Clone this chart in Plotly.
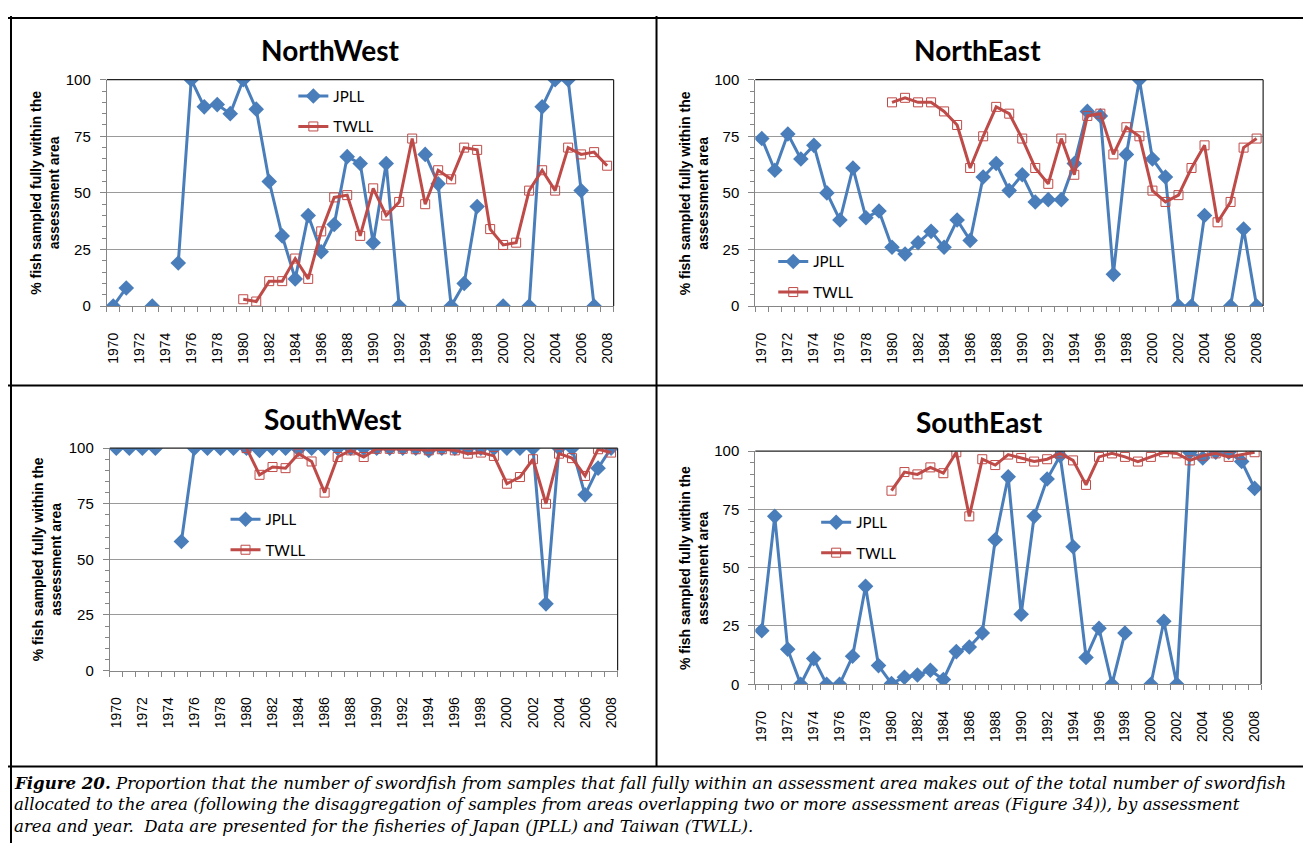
import plotly.graph_objects as go

years = list(range(1970, 2009))
year_labels = [str(y) for y in range(1970, 2009, 2)]
N = None

nw_jpll = [0, 8, N, 0, N, 19, 100, 88, 89, 85,
           100, 87, 55, 31, 12, 40, 24, 36, 66, 63,
           28, 63, 0, N, 67, 54, 0, 10, 44, N,
           0, N, 0, 88, 100, 100, 51, 0, N]
nw_twll = [N] * 10 + [3, 2, 11, 11, 21, 12, 33, 48, 49, 31,
                      52, 40, 46, 74, 45, 60, 56, 70, 69, 34,
                      27, 28, 51, 60, 51, 70, 67, 68, 62]

ne_jpll = [74, 60, 76, 65, 71, 50, 38, 61, 39, 42,
           26, 23, 28, 33, 26, 38, 29, 57, 63, 51,
           58, 46, 47, 47, 63, 86, 84, 14, 67, 100,
           65, 57, 0, 0, 40, N, 0, 34, 0]
ne_twll = [N] * 10 + [90, 92, 90, 90, 86, 80, 61, 75, 88, 85,
                      74, 61, 54, 74, 58, 84, 85, 67, 79, 75,
                      51, 46, 49, 61, 71, 37, 46, 70, 74]

sw_jpll = [100, 100, 100, 100, N, 58, 100, 100, 100, 100,
           100, 99, 100, 100, 99.5, 100, 100, 100, 100, 100,
           100, 100, 100, 100, 99, 100, 100, 100, 100, 100,
           100, 100, 100, 30, 100, 100, 79, 91, 100]
sw_twll = [N] * 10 + [100, 88, 91.5, 91, 97.5, 94, 80, 96, 99, 96,
                      99.7, 99.7, 99.7, 99.5, 99, 99.5, 99, 97.5, 98, 96.5,
                      84, 87, 95, 75, 97.5, 95.5, 87.5, 99.5, 98]

se_jpll = [23, 72, 15, 0, 11, 0, 0, 12, 42, 8,
           0.3, 3, 4, 6, 2, 14, 16, 22, 62, 89,
           30, 72, 88, 98, 59, 11.5, 24, 0, 22, N,
           0, 27, 0, 99.5, 97, 99.5, 99.5, 95.5, 84]
se_twll = [N] * 10 + [83, 91, 90, 93, 90.5, 99.5, 72, 96.5, 94, 98.5,
                      97, 95.5, 96.5, 99, 96, 85.5, 97.5, 99, 97.5, 95.5,
                      97.5, 99.5, 99, 96, 98, 99, 97.5, 98.5, 99.5]

panels = ["NorthWest", "NorthEast", "SouthWest", "SouthEast"]
series = [(nw_jpll, nw_twll), (ne_jpll, ne_twll), (sw_jpll, sw_twll), (se_jpll, se_twll)]

W, H = 1311, 843
OFF = 8  # page body margin of the browser
def px(x):
    return (x - OFF) / W
def py(y):
    return 1 - (y - OFF) / H

# plot-area boxes in page pixels: (left, right, top, bottom)
boxes = [(105, 613, 72, 303), (755, 1264, 72, 303), (108, 617, 448, 675), (755, 1262, 451, 689)]
title_pos = [(329, 42), (978, 42), (332, 418), (980, 421)]
ytitle_x = [43, 693, 45, 693]
legend_pos = [(292, 72), (773, 241), (224, 504), (816, 507)]

BLUE = "#4A7EBB"
RED = "#BE4B48"
AXC = "#868686"

fig = go.Figure()
layout = dict(width=W, height=H, margin=dict(l=0, r=0, t=0, b=0),
              paper_bgcolor="white", plot_bgcolor="white", showlegend=True)
annotations = []
shapes = []

for i, (name, (jp, tw)) in enumerate(zip(panels, series)):
    k = "" if i == 0 else str(i + 1)
    lg = "legend" + k
    fig.add_trace(go.Scatter(x=years, y=jp, name="JPLL", mode="lines+markers",
                             line=dict(color=BLUE, width=3),
                             marker=dict(symbol="diamond", size=12, color=BLUE),
                             connectgaps=False, xaxis="x" + k, yaxis="y" + k,
                             legend=lg, legendgroup=name + "j"))
    fig.add_trace(go.Scatter(x=years, y=tw, name="TWLL", mode="lines+markers",
                             line=dict(color=RED, width=3),
                             marker=dict(symbol="square-open", size=9, color=RED,
                                         line=dict(width=1, color=RED)),
                             connectgaps=False, xaxis="x" + k, yaxis="y" + k,
                             legend=lg, legendgroup=name + "t"))
    l, r, t, b = boxes[i]
    layout["xaxis" + k] = dict(
        domain=[px(l), px(r)], anchor="y" + k, range=[1969.5, 2008.5],
        tickvals=list(range(1970, 2009, 2)), ticktext=year_labels,
        ticks="", tickangle=-90, ticklabelstandoff=20,
        tickfont=dict(family="Liberation Sans", size=14, color="black"),
        showgrid=False, zeroline=False, showline=True, linecolor=AXC, linewidth=1,
        minor=dict(tick0=1969.5, dtick=1, ticks="outside", ticklen=5,
                   tickcolor=AXC, showgrid=False),
        fixedrange=True)
    layout["yaxis" + k] = dict(
        domain=[py(b), py(t)], anchor="x" + k, range=[0, 100],
        tickvals=[0, 25, 50, 75, 100], ticks="outside", ticklen=6, tickcolor=AXC,
        ticklabelstandoff=6,
        tickfont=dict(family="Liberation Sans", size=15, color="black"),
        showgrid=True, gridcolor="#9a9a9a", gridwidth=1, zeroline=False,
        showline=True, linecolor=AXC, linewidth=1,
        minor=dict(dtick=5, ticks="outside", ticklen=4, tickcolor=AXC, showgrid=False),
        fixedrange=True)
    lx, ly = legend_pos[i]
    layout[lg] = dict(x=px(lx), y=py(ly), xanchor="left", yanchor="top",
                      bgcolor="rgba(0,0,0,0)", tracegroupgap=8,
                      font=dict(family="Lato", size=15, color="black"))
    shapes.append(dict(type="line", xref="x" + k + " domain", yref="y" + k + " domain",
                       x0=0, x1=1, y0=1, y1=1, line=dict(color="#222222", width=1.2),
                       layer="above"))
    shapes.append(dict(type="line", xref="x" + k + " domain", yref="y" + k + " domain",
                       x0=1, x1=1, y0=0, y1=1, line=dict(color="#222222", width=1.2),
                       layer="above"))
    tx, ty = title_pos[i]
    annotations.append(dict(text="<b>" + name + "</b>", x=px(tx), y=py(ty), xref="paper", yref="paper",
                            showarrow=False, xanchor="center", yanchor="middle",
                            font=dict(family="Lato", size=28, color="black")))
    annotations.append(dict(text="<b>% fish sampled fully within the<br>assessment area</b>",
                            x=px(ytitle_x[i]), y=py((t + b) / 2), xref="paper", yref="paper",
                            showarrow=False, textangle=-90, xanchor="center", yanchor="middle",
                            font=dict(family="Liberation Sans", size=14, color="black")))

# table frame lines
frame = dict(color="black", width=2)
shapes += [
    dict(type="line", xref="paper", yref="paper", x0=px(6), x1=px(1305), y0=py(9), y1=py(9), line=frame),
    dict(type="line", xref="paper", yref="paper", x0=px(9), x1=px(9), y0=py(7), y1=py(860), line=frame),
    dict(type="line", xref="paper", yref="paper", x0=px(1305), x1=px(1305), y0=py(7), y1=py(860), line=frame),
    dict(type="line", xref="paper", yref="paper", x0=px(656), x1=px(656), y0=py(7), y1=py(773), line=frame),
    dict(type="line", xref="paper", yref="paper", x0=px(6), x1=px(1305), y0=py(384), y1=py(384), line=frame),
    dict(type="line", xref="paper", yref="paper", x0=px(6), x1=px(1305), y0=py(773), y1=py(773), line=frame),
]

caption_lines = [
    "<b><i>Figure 20.</i></b><i> Proportion that the number of swordfish from samples that fall fully within an assessment area makes out of the total number of swordfish</i>",
    "<i>allocated to the area (following the disaggregation of samples from areas overlapping two or more assessment areas (Figure 34)), by assessment</i>",
    "<i>area and year.\u00a0 Data are presented for the fisheries of Japan (JPLL) and Taiwan (TWLL).</i>",
]
for j, txt in enumerate(caption_lines):
    annotations.append(dict(text=txt, x=px(10), y=py(790 + 22 * j), xref="paper", yref="paper",
                            showarrow=False, xanchor="left", yanchor="middle", align="left",
                            font=dict(family="DejaVu Serif", size=16.6, color="black")))

layout["annotations"] = annotations
layout["shapes"] = shapes
fig.update_layout(**layout)
fig.write_html("out.html", config={"displayModeBar": False})
